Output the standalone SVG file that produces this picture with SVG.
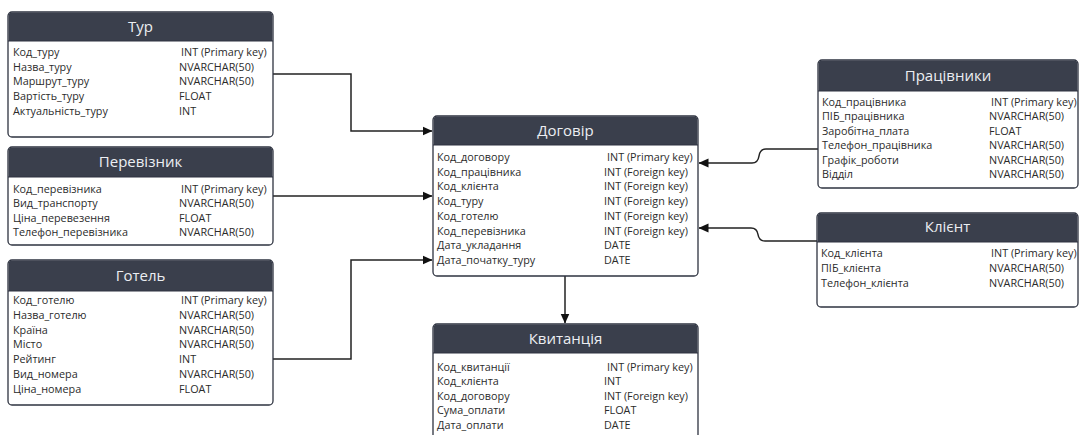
<svg xmlns="http://www.w3.org/2000/svg" width="1082" height="435" viewBox="0 0 1082 435">
<style>
.box{fill:#ffffff;stroke:#2e3340;stroke-width:1.3}
.hdr{fill:#3a3f4c}
.ttl{font-family:"Open Sans","Noto Sans",sans-serif;font-size:15px;fill:#eceef2;text-anchor:middle}
.row{font-family:"Open Sans","Noto Sans",sans-serif;font-size:10.8px;fill:#2b2b2b}
.sep{stroke:#2e3340;stroke-width:1}
.con{fill:none;stroke:#222;stroke-width:1.5;marker-end:url(#arr)}
</style>
<defs>
<marker id="arr" markerUnits="userSpaceOnUse" markerWidth="10" markerHeight="10" viewBox="0 0 10 10" refX="9.5" refY="5" orient="auto">
<path d="M0,0.5 L10,5 L0,9.5 z" fill="#111"/>
</marker>
</defs>

<g id="connectors">
<path class="con" d="M273,74 H351 V131 H432"/>
<path class="con" d="M273,196 H432"/>
<path class="con" d="M273,359 H351 V260 H432"/>
<path class="con" d="M818,149 H766 Q760,149 759,156 Q758,163 752,163 H699"/>
<path class="con" d="M817,241 H765 Q759,241 758,234.5 Q757,228 751,228 H699"/>
<path class="con" d="M565,276 V323"/>
</g>

<g id="tur">
<rect class="box" x="8" y="12" width="265" height="125" rx="4"/>
<path class="hdr" d="M8.6,41 V16 Q8.6,12.6 12,12.6 H269 Q272.4,12.6 272.4,16 V41 Z"/>
<line class="sep" x1="8" y1="41" x2="273" y2="41"/>
<text class="ttl" x="140.5" y="32">Тур</text>
<text class="row" x="13" y="56">Код_туру</text><text class="row" x="181" y="56">INT (Primary key)</text>
<text class="row" x="13" y="70.7">Назва_туру</text><text class="row" x="179" y="70.7">NVARCHAR(50)</text>
<text class="row" x="13" y="85.4">Маршрут_туру</text><text class="row" x="179" y="85.4">NVARCHAR(50)</text>
<text class="row" x="13" y="100.1">Вартість_туру</text><text class="row" x="179" y="100.1">FLOAT</text>
<text class="row" x="13" y="114.8">Актуальність_туру</text><text class="row" x="179" y="114.8">INT</text>
</g>

<g id="pereviznyk">
<rect class="box" x="8" y="147" width="265" height="98" rx="4"/>
<path class="hdr" d="M8.6,177 V151 Q8.6,147.6 12,147.6 H269 Q272.4,147.6 272.4,151 V177 Z"/>
<line class="sep" x1="8" y1="177" x2="273" y2="177"/>
<text class="ttl" x="140.5" y="167">Перевізник</text>
<text class="row" x="13" y="192.5">Код_перевізника</text><text class="row" x="181" y="192.5">INT (Primary key)</text>
<text class="row" x="13" y="207">Вид_транспорту</text><text class="row" x="179" y="207">NVARCHAR(50)</text>
<text class="row" x="13" y="221.5">Ціна_перевезення</text><text class="row" x="179" y="221.5">FLOAT</text>
<text class="row" x="13" y="236">Телефон_перевізника</text><text class="row" x="179" y="236">NVARCHAR(50)</text>
</g>

<g id="hotel">
<rect class="box" x="8" y="260" width="265" height="145" rx="4"/>
<path class="hdr" d="M8.6,291 V264 Q8.6,260.6 12,260.6 H269 Q272.4,260.6 272.4,264 V291 Z"/>
<line class="sep" x1="8" y1="291" x2="273" y2="291"/>
<text class="ttl" x="140.5" y="281">Готель</text>
<text class="row" x="13" y="304">Код_готелю</text><text class="row" x="181" y="304">INT (Primary key)</text>
<text class="row" x="13" y="318.8">Назва_готелю</text><text class="row" x="179" y="318.8">NVARCHAR(50)</text>
<text class="row" x="13" y="333.6">Країна</text><text class="row" x="179" y="333.6">NVARCHAR(50)</text>
<text class="row" x="13" y="348.4">Місто</text><text class="row" x="179" y="348.4">NVARCHAR(50)</text>
<text class="row" x="13" y="363.2">Рейтинг</text><text class="row" x="179" y="363.2">INT</text>
<text class="row" x="13" y="378">Вид_номера</text><text class="row" x="179" y="378">NVARCHAR(50)</text>
<text class="row" x="13" y="392.8">Ціна_номера</text><text class="row" x="179" y="392.8">FLOAT</text>
</g>

<g id="dogovir">
<rect class="box" x="433" y="116" width="265" height="160" rx="4"/>
<path class="hdr" d="M433.6,145 V120 Q433.6,116.6 437,116.6 H694 Q697.4,116.6 697.4,120 V145 Z"/>
<line class="sep" x1="433" y1="145" x2="698" y2="145"/>
<text class="ttl" x="565.5" y="136">Договір</text>
<text class="row" x="437" y="161">Код_договору</text><text class="row" x="607" y="161">INT (Primary key)</text>
<text class="row" x="437" y="175.7">Код_працівника</text><text class="row" x="604" y="175.7">INT (Foreign key)</text>
<text class="row" x="437" y="190.4">Код_клієнта</text><text class="row" x="604" y="190.4">INT (Foreign key)</text>
<text class="row" x="437" y="205.1">Код_туру</text><text class="row" x="604" y="205.1">INT (Foreign key)</text>
<text class="row" x="437" y="219.8">Код_готелю</text><text class="row" x="604" y="219.8">INT (Foreign key)</text>
<text class="row" x="437" y="234.5">Код_перевізника</text><text class="row" x="604" y="234.5">INT (Foreign key)</text>
<text class="row" x="437" y="249.2">Дата_укладання</text><text class="row" x="604" y="249.2">DATE</text>
<text class="row" x="437" y="263.9">Дата_початку_туру</text><text class="row" x="604" y="263.9">DATE</text>
</g>

<g id="kvytantsiia">
<rect class="box" x="433" y="324" width="265" height="124" rx="4"/>
<path class="hdr" d="M433.6,353 V328 Q433.6,324.6 437,324.6 H694 Q697.4,324.6 697.4,328 V353 Z"/>
<line class="sep" x1="433" y1="353" x2="698" y2="353"/>
<text class="ttl" x="565.5" y="344">Квитанція</text>
<text class="row" x="437" y="370.5">Код_квитанції</text><text class="row" x="607" y="370.5">INT (Primary key)</text>
<text class="row" x="437" y="385">Код_клієнта</text><text class="row" x="604" y="385">INT</text>
<text class="row" x="437" y="399.5">Код_договору</text><text class="row" x="604" y="399.5">INT (Foreign key)</text>
<text class="row" x="437" y="414">Сума_оплати</text><text class="row" x="604" y="414">FLOAT</text>
<text class="row" x="437" y="428.5">Дата_оплати</text><text class="row" x="604" y="428.5">DATE</text>
</g>

<g id="pratsivnyky">
<rect class="box" x="818" y="60" width="260" height="128" rx="4"/>
<path class="hdr" d="M818.6,91 V64 Q818.6,60.6 822,60.6 H1074 Q1077.4,60.6 1077.4,64 V91 Z"/>
<line class="sep" x1="818" y1="91" x2="1078" y2="91"/>
<text class="ttl" x="948" y="81">Працівники</text>
<text class="row" x="822" y="105.5">Код_працівника</text><text class="row" x="991" y="105.5">INT (Primary key)</text>
<text class="row" x="822" y="120">ПІБ_працівника</text><text class="row" x="989" y="120">NVARCHAR(50)</text>
<text class="row" x="822" y="134.5">Заробітна_плата</text><text class="row" x="989" y="134.5">FLOAT</text>
<text class="row" x="822" y="149">Телефон_працівника</text><text class="row" x="989" y="149">NVARCHAR(50)</text>
<text class="row" x="822" y="163.5">Графік_роботи</text><text class="row" x="989" y="163.5">NVARCHAR(50)</text>
<text class="row" x="822" y="178">Відділ</text><text class="row" x="989" y="178">NVARCHAR(50)</text>
</g>

<g id="kliient">
<rect class="box" x="817" y="213" width="261" height="94" rx="4"/>
<path class="hdr" d="M817.6,242 V217 Q817.6,213.6 821,213.6 H1074 Q1077.4,213.6 1077.4,217 V242 Z"/>
<line class="sep" x1="817" y1="242" x2="1078" y2="242"/>
<text class="ttl" x="947.5" y="232">Клієнт</text>
<text class="row" x="821" y="257">Код_клієнта</text><text class="row" x="991" y="257">INT (Primary key)</text>
<text class="row" x="821" y="271.8">ПІБ_клієнта</text><text class="row" x="989" y="271.8">NVARCHAR(50)</text>
<text class="row" x="821" y="286.6">Телефон_клієнта</text><text class="row" x="989" y="286.6">NVARCHAR(50)</text>
</g>
</svg>
